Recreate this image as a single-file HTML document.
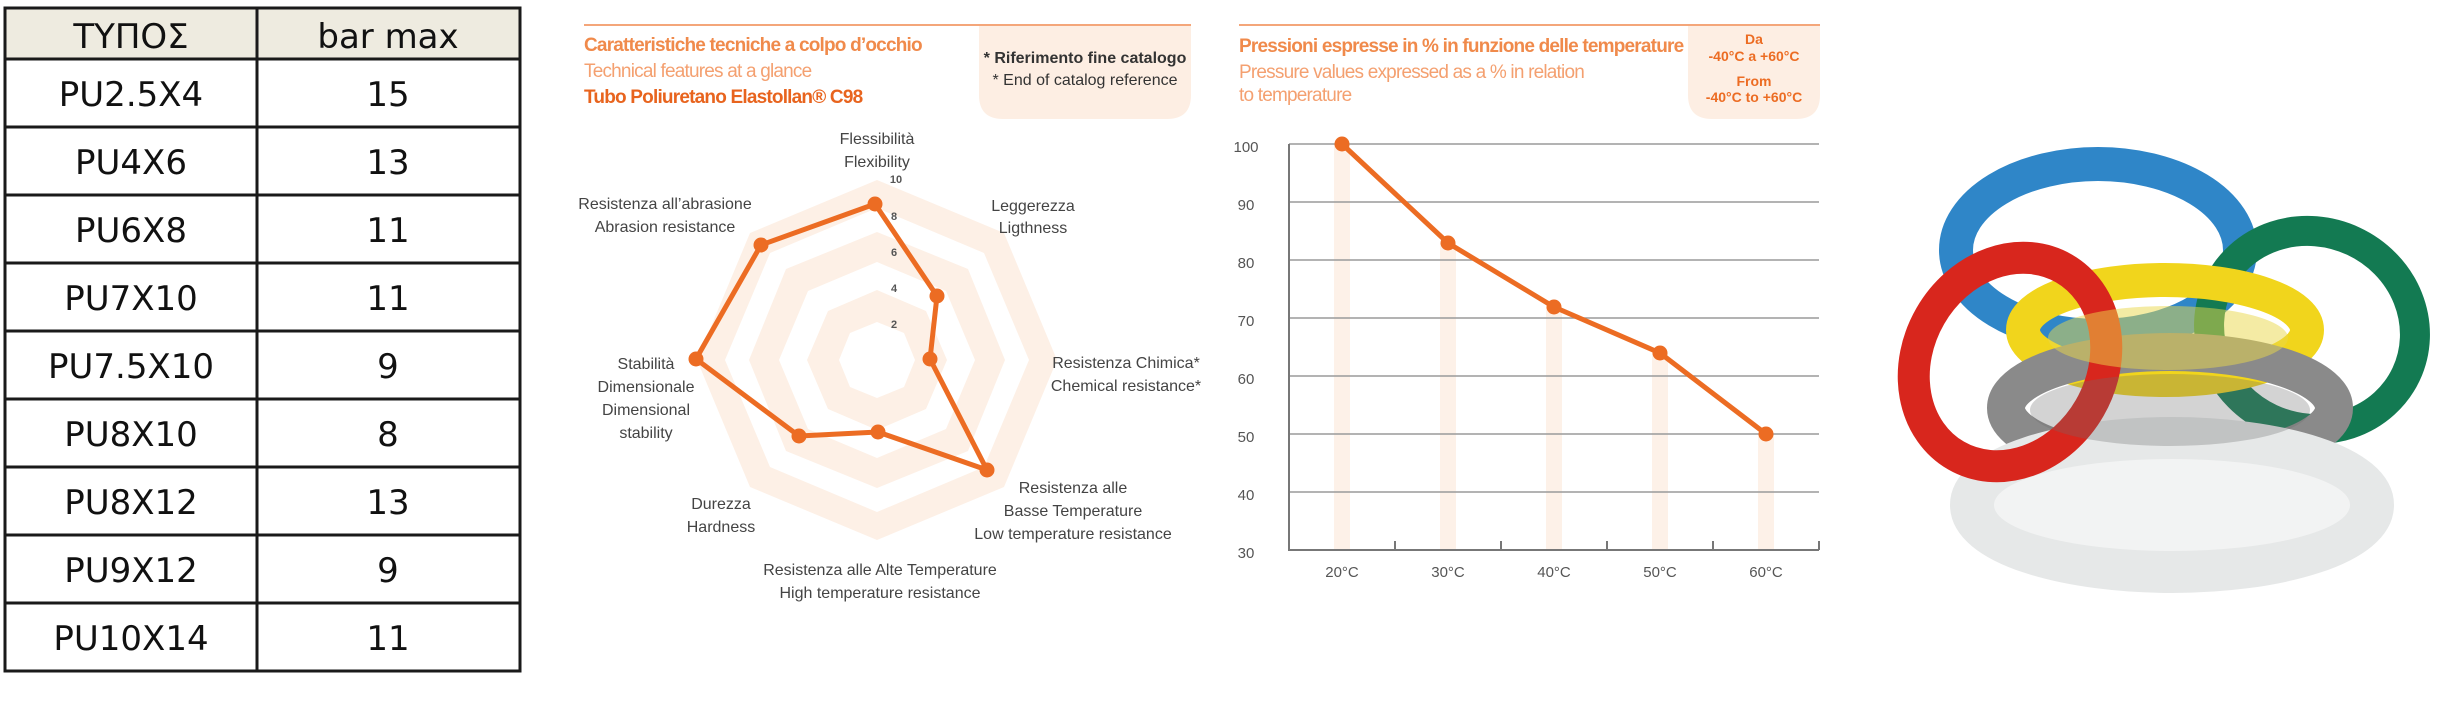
<!DOCTYPE html>
<html><head><meta charset="utf-8"><style>
body{margin:0;background:#fff;width:2446px;height:702px;overflow:hidden}
svg{display:block}
</style></head><body>
<svg width="2446" height="702" viewBox="0 0 2446 702" font-family="Liberation Sans, DejaVu Sans, sans-serif">
<!-- TABLE -->
<rect x="5" y="8" width="515" height="51" fill="#eeebe0"/>
<g stroke="#1a1a1a" stroke-width="3" fill="none">
<rect x="5" y="8" width="515" height="663"/>
<line x1="257" y1="8" x2="257" y2="671"/>
<line x1="5" y1="59" x2="520" y2="59"/>
<line x1="5" y1="127" x2="520" y2="127"/>
<line x1="5" y1="195" x2="520" y2="195"/>
<line x1="5" y1="263" x2="520" y2="263"/>
<line x1="5" y1="331" x2="520" y2="331"/>
<line x1="5" y1="399" x2="520" y2="399"/>
<line x1="5" y1="467" x2="520" y2="467"/>
<line x1="5" y1="535" x2="520" y2="535"/>
<line x1="5" y1="603" x2="520" y2="603"/>
</g>
<g font-size="34" fill="#111" text-anchor="middle" font-family="DejaVu Sans, Liberation Sans, sans-serif">
<text x="131" y="48">ΤΥΠΟΣ</text><text x="388" y="48">bar max</text>
<text x="131" y="106">PU2.5X4</text><text x="388" y="106">15</text>
<text x="131" y="174">PU4X6</text><text x="388" y="174">13</text>
<text x="131" y="242">PU6X8</text><text x="388" y="242">11</text>
<text x="131" y="310">PU7X10</text><text x="388" y="310">11</text>
<text x="131" y="378">PU7.5X10</text><text x="388" y="378">9</text>
<text x="131" y="446">PU8X10</text><text x="388" y="446">8</text>
<text x="131" y="514">PU8X12</text><text x="388" y="514">13</text>
<text x="131" y="582">PU9X12</text><text x="388" y="582">9</text>
<text x="131" y="650">PU10X14</text><text x="388" y="650">11</text>
</g>

<!-- RADAR -->
<line x1="584" y1="25" x2="1191" y2="25" stroke="#f4a67a" stroke-width="2"/>
<path d="M979 26 H1191 V95 Q1191 119 1167 119 H1003 Q979 119 979 95 Z" fill="#fdeee3"/>
<text x="1085" y="63" font-size="16" font-weight="bold" fill="#333" text-anchor="middle">* Riferimento fine catalogo</text>
<text x="1085" y="85" font-size="16" fill="#333" text-anchor="middle">* End of catalog reference</text>
<text x="584" y="51" font-size="19" font-weight="bold" fill="#f08a4b" letter-spacing="-0.8">Caratteristiche tecniche a colpo d’occhio</text>
<text x="584" y="77" font-size="19" fill="#f4a070" letter-spacing="-0.8">Technical features at a glance</text>
<text x="584" y="103" font-size="19" font-weight="bold" fill="#e8641e" letter-spacing="-0.8">Tubo Poliuretano Elastollan® C98</text>
<g transform="translate(877,360)">
<polygon points="0,-180 127,-127 180,0 127,127 0,180 -127,127 -180,0 -127,-127" fill="#fdf0e6"/>
<polygon points="0,-152 107,-107 152,0 107,107 0,152 -107,107 -152,0 -107,-107" fill="#fff"/>
<polygon points="0,-128 91,-91 128,0 91,91 0,128 -91,91 -128,0 -91,-91" fill="#fdf0e6"/>
<polygon points="0,-98 69,-69 98,0 69,69 0,98 -69,69 -98,0 -69,-69" fill="#fff"/>
<polygon points="0,-70 49,-49 70,0 49,49 0,70 -49,49 -70,0 -49,-49" fill="#fdf0e6"/>
<polygon points="0,-38 27,-27 38,0 27,27 0,38 -27,27 -38,0 -27,-27" fill="#fff"/>
</g>
<g font-size="11" font-weight="bold" fill="#555" text-anchor="middle">
<text x="896" y="183">10</text><text x="894" y="220">8</text><text x="894" y="256">6</text><text x="894" y="292">4</text><text x="894" y="328">2</text>
</g>
<polygon points="875,204 937,296 930,359 987,470 878,432 799,436 696,359 761,245" fill="none" stroke="#ec6c23" stroke-width="5" stroke-linejoin="round"/>
<g fill="#ec6c23">
<circle cx="875" cy="204" r="7.5"/><circle cx="937" cy="296" r="7.5"/><circle cx="930" cy="359" r="7.5"/><circle cx="987" cy="470" r="7.5"/>
<circle cx="878" cy="432" r="7.5"/><circle cx="799" cy="436" r="7.5"/><circle cx="696" cy="359" r="7.5"/><circle cx="761" cy="245" r="7.5"/>
</g>
<g font-size="16" fill="#444" text-anchor="middle">
<text x="877" y="144">Flessibilità</text><text x="877" y="167">Flexibility</text>
<text x="1033" y="211">Leggerezza</text><text x="1033" y="233">Ligthness</text>
<text x="1126" y="368">Resistenza Chimica*</text><text x="1126" y="391">Chemical resistance*</text>
<text x="1073" y="493">Resistenza alle</text><text x="1073" y="516">Basse Temperature</text><text x="1073" y="539">Low temperature resistance</text>
<text x="880" y="575">Resistenza alle Alte Temperature</text><text x="880" y="598">High temperature resistance</text>
<text x="721" y="509">Durezza</text><text x="721" y="532">Hardness</text>
<text x="646" y="369">Stabilità</text><text x="646" y="392">Dimensionale</text><text x="646" y="415">Dimensional</text><text x="646" y="438">stability</text>
<text x="665" y="209">Resistenza all’abrasione</text><text x="665" y="232">Abrasion resistance</text>
</g>

<!-- LINE CHART -->
<line x1="1239" y1="25" x2="1820" y2="25" stroke="#f4a67a" stroke-width="2"/>
<path d="M1688 26 H1820 V95 Q1820 119 1796 119 H1712 Q1688 119 1688 95 Z" fill="#fdeee3"/>
<g font-size="14" font-weight="bold" fill="#ec6c23" text-anchor="middle">
<text x="1754" y="44">Da</text><text x="1754" y="61">-40°C a +60°C</text><text x="1754" y="86">From</text><text x="1754" y="102">-40°C to +60°C</text>
</g>
<text x="1239" y="52" font-size="19" font-weight="bold" fill="#f08a4b" letter-spacing="-0.8">Pressioni espresse in % in funzione delle temperature</text>
<text x="1239" y="78" font-size="19" fill="#f4a070" letter-spacing="-0.8">Pressure values expressed as a % in relation</text>
<text x="1239" y="101" font-size="19" fill="#f4a070" letter-spacing="-0.8">to temperature</text>
<g fill="#fdf1e8">
<rect x="1334" y="144" width="16" height="406"/><rect x="1440" y="243" width="16" height="307"/>
<rect x="1546" y="307" width="16" height="243"/><rect x="1652" y="353" width="16" height="197"/><rect x="1758" y="434" width="16" height="116"/>
</g>
<g stroke="#9a9a9a" stroke-width="1.5">
<line x1="1289" y1="144" x2="1819" y2="144"/><line x1="1289" y1="202" x2="1819" y2="202"/>
<line x1="1289" y1="260" x2="1819" y2="260"/><line x1="1289" y1="318" x2="1819" y2="318"/>
<line x1="1289" y1="376" x2="1819" y2="376"/><line x1="1289" y1="434" x2="1819" y2="434"/>
<line x1="1289" y1="492" x2="1819" y2="492"/>
</g>
<g stroke="#777" stroke-width="2">
<line x1="1289" y1="144" x2="1289" y2="551"/><line x1="1289" y1="550" x2="1819" y2="550"/>
<line x1="1395" y1="541" x2="1395" y2="550"/><line x1="1501" y1="541" x2="1501" y2="550"/>
<line x1="1607" y1="541" x2="1607" y2="550"/><line x1="1713" y1="541" x2="1713" y2="550"/><line x1="1819" y1="541" x2="1819" y2="550"/>
</g>
<polyline points="1342,144 1448,243 1554,307 1660,353 1766,434" fill="none" stroke="#ec6c23" stroke-width="5" stroke-linejoin="round"/>
<g fill="#ec6c23"><circle cx="1342" cy="144" r="7.5"/><circle cx="1448" cy="243" r="7.5"/><circle cx="1554" cy="307" r="7.5"/><circle cx="1660" cy="353" r="7.5"/><circle cx="1766" cy="434" r="7.5"/></g>
<g font-size="15" fill="#555" text-anchor="middle">
<text x="1246" y="152">100</text><text x="1246" y="210">90</text><text x="1246" y="268">80</text><text x="1246" y="326">70</text>
<text x="1246" y="384">60</text><text x="1246" y="442">50</text><text x="1246" y="500">40</text><text x="1246" y="558">30</text>
<text x="1342" y="577">20°C</text><text x="1448" y="577">30°C</text><text x="1554" y="577">40°C</text><text x="1660" y="577">50°C</text><text x="1766" y="577">60°C</text>
</g>

<!-- TUBE COILS -->
<g fill="none">
<ellipse cx="2098" cy="250" rx="142" ry="86" stroke="#2f86c8" stroke-width="34"/>
<ellipse cx="2312" cy="330" rx="104" ry="98" stroke="#137a52" stroke-width="30" transform="rotate(25 2312 330)"/>
<ellipse cx="2165" cy="330" rx="142" ry="50" stroke="#f1d51c" stroke-width="34"/>
<ellipse cx="2170" cy="408" rx="164" ry="56" stroke="#8a8a8a" stroke-width="38"/>
<ellipse cx="2172" cy="505" rx="200" ry="66" stroke="#e6e8e8" stroke-width="44"/>
<ellipse cx="2010" cy="362" rx="92" ry="108" stroke="#d8261d" stroke-width="32" transform="rotate(30 2010 362)"/>
</g>
<ellipse cx="2172" cy="505" rx="178" ry="46" fill="#f2f3f3"/>
<ellipse cx="2168" cy="338" rx="120" ry="32" fill="#e9d84a" opacity="0.5"/>
<ellipse cx="2170" cy="410" rx="140" ry="36" fill="#6d6d6d" opacity="0.3"/>
</svg>
</body></html>
